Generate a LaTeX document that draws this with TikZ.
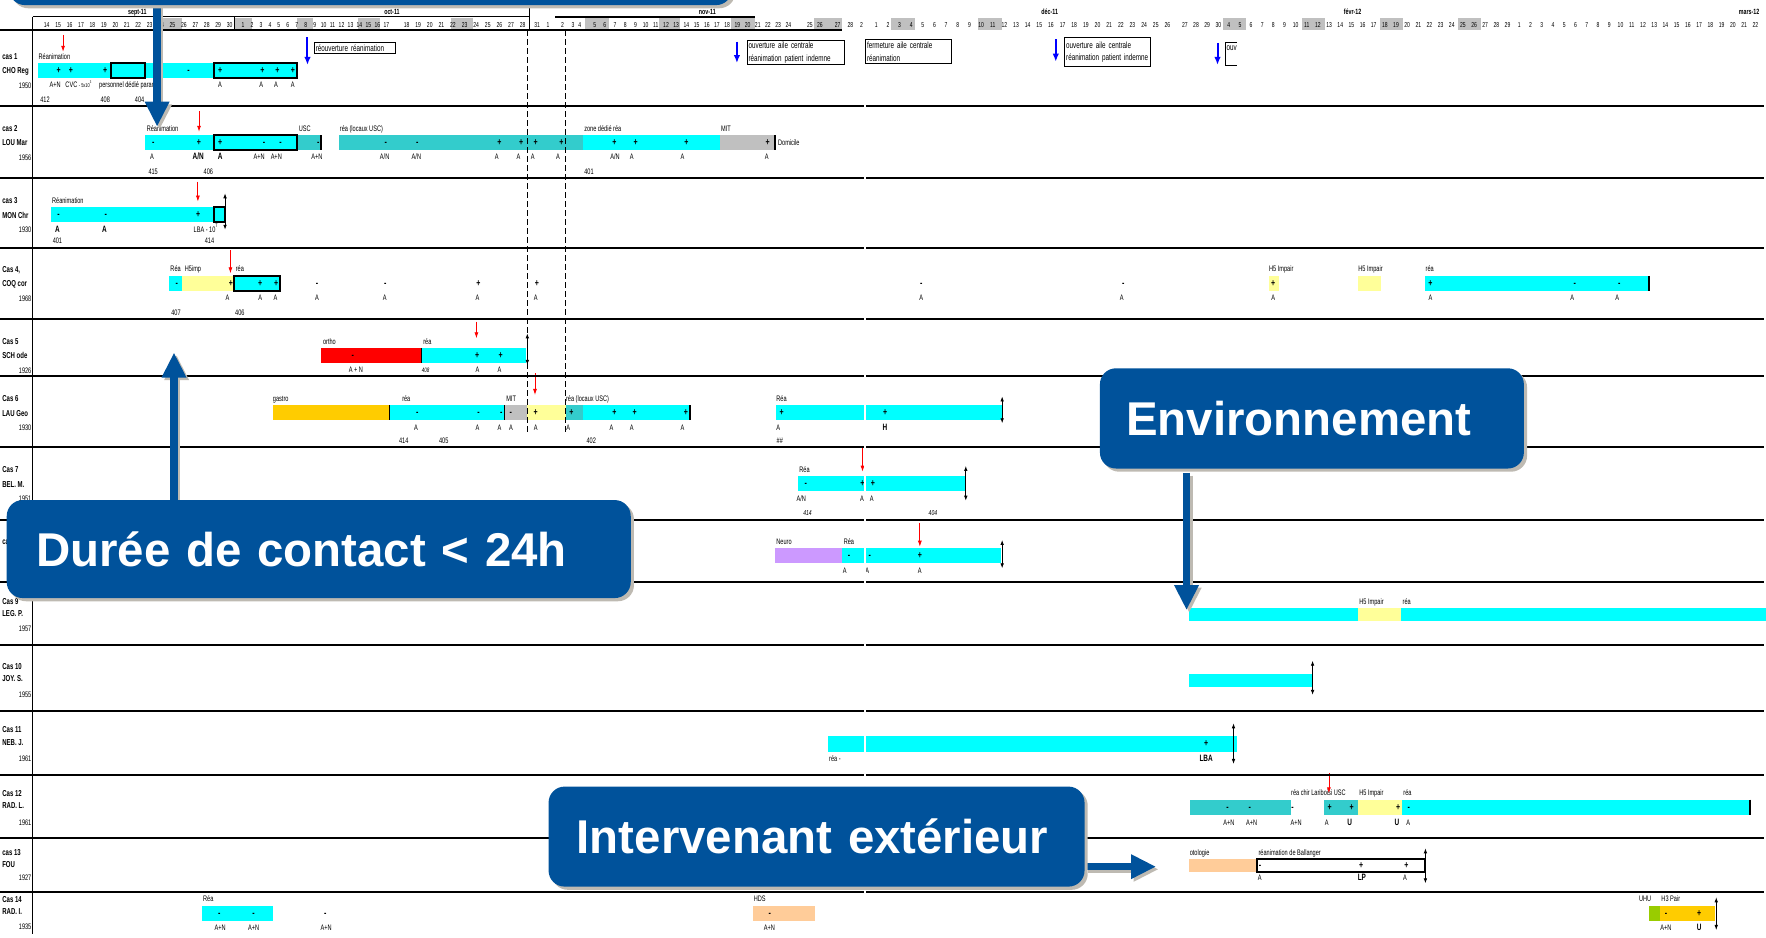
\documentclass[tikz,border=0pt]{standalone}
\usepackage{fontspec}
\setmainfont{Liberation Sans}
\newfontfamily\narrowfont[FakeStretch=0.7]{Liberation Sans}
\usetikzlibrary{arrows.meta,shadows}
\pgfdeclarelayer{arrows}
\pgfdeclarelayer{boxes}
\pgfsetlayers{main,arrows,boxes}

\definecolor{cyanbar}{RGB}{0,255,255}
\definecolor{tealbar}{RGB}{51,204,204}
\definecolor{yellowbar}{RGB}{255,255,153}
\definecolor{redbar}{RGB}{255,0,0}
\definecolor{orangebar}{RGB}{255,204,0}
\definecolor{graybar}{RGB}{192,192,192}
\definecolor{purplebar}{RGB}{204,153,255}
\definecolor{peachbar}{RGB}{255,204,153}
\definecolor{greenbar}{RGB}{153,204,0}
\definecolor{daygray}{RGB}{192,192,192}
\definecolor{calloutblue}{RGB}{0,82,155}
\definecolor{calloutshadow}{RGB}{190,186,178}

\begin{document}
\begin{tikzpicture}[
  x=0.5631pt, y=-0.5631pt,
  rowline/.style={line width=0.9pt},
  heavy/.style={draw=black, line width=1pt},
  abovelbl/.style={font=\narrowfont\fontsize{4}{4.8}\selectfont, anchor=base west, inner sep=0pt},
  obs/.style={font=\narrowfont\fontsize{4}{4.8}\selectfont, anchor=base, inner sep=0pt},
  obsb/.style={obs, font=\narrowfont\bfseries\fontsize{4.6}{5}\selectfont},
  room/.style={obs},
  sgn/.style={font=\narrowfont\bfseries\fontsize{5}{5}\selectfont, anchor=base, inner sep=0pt},
  caselbl/.style={font=\narrowfont\bfseries\fontsize{4.3}{5}\selectfont, anchor=base west, inner sep=0pt},
  yearlbl/.style={font=\narrowfont\fontsize{4}{5}\selectfont, anchor=base east, inner sep=0pt},
  daylbl/.style={font=\narrowfont\fontsize{3.6}{4}\selectfont, anchor=base, inner sep=0pt},
  monthlbl/.style={font=\narrowfont\bfseries\fontsize{3.8}{4}\selectfont, anchor=base, inner sep=0pt},
  notebox/.style={draw, line width=0.5pt, font=\narrowfont\fontsize{4.5}{6.2}\selectfont, align=left, anchor=north west, inner xsep=0.8pt, inner ysep=0pt},
  redarr/.style={red, line width=0.4pt, -{Latex[length=3pt,width=2pt]}},
  bluearr/.style={blue, line width=1pt, -{Latex[length=4pt,width=3.2pt]}},
  dblarr/.style={line width=0.4pt, {Latex[length=2.5pt,width=1.8pt]}-{Latex[length=2.5pt,width=1.8pt]}},
  callout/.style={fill=calloutblue, rounded corners=8pt, text=white, font=\bfseries\fontsize{23.7}{28}\selectfont, align=left, text height=17pt, text depth=0pt, inner ysep=0pt, general shadow={fill=calloutshadow, shadow xshift=1.6pt, shadow yshift=-1.6pt}},
  blockarrow/.style={draw=calloutblue, line width=3.7pt, -{Triangle[length=12.5pt,width=11.5pt]}},
  arrowshadow/.style={draw=calloutshadow, line width=3.7pt, -{Triangle[length=12.5pt,width=11.5pt]}},
]
\useasboundingbox (0,0) rectangle (1568,832);

% header
\foreach \a/\b in {143/162,208/224,264/278,318/337,400/420,519/541,585/604,649/670,723/748,791/812,868/890,1086/1106,1156/1176,1225.5/1245.4,1294.6/1315}
  \fill[daygray] (\a,16.3) rectangle (\b,27);
\foreach \x/\m in {122/sept-11,348/oct-11,628/nov-11,932/déc-11,1201/févr-12,1553/mars-12}
  \node[monthlbl] at (\x,13.3) {\m};
\foreach \d [count=\i from 0] in {14,...,30} \node[daylbl] at (41.5+10.15*\i,24.3) {\d};
\foreach \d [count=\i from 0] in {1,...,17} \node[daylbl] at (215.8+7.95*\i,24.3) {\d};
\foreach \d [count=\i from 0] in {18,...,28} \node[daylbl] at (361+10.3*\i,24.3) {\d};
\foreach \x/\d in {477/31,486.6/1,499.5/2,508.7/3,514.8/4} \node[daylbl] at (\x,24.3) {\d};
\foreach \d [count=\i from 0] in {5,...,24} \node[daylbl] at (528+9.05*\i,24.3) {\d};
\foreach \x/\d in {719/25,728/26,743.7/27,755/28,765/2} \node[daylbl] at (\x,24.3) {\d};
\foreach \d [count=\i from 0] in {1,...,26} \node[daylbl] at (778+10.34*\i,24.3) {\d};
\foreach \d [count=\i from 0] in {27,...,30} \node[daylbl] at (1052+9.9*\i,24.3) {\d};
\foreach \d [count=\i from 0] in {4,...,29} \node[daylbl] at (1091+9.9*\i,24.3) {\d};
\foreach \d [count=\i from 0] in {1,...,22} \node[daylbl] at (1349+9.98*\i,24.3) {\d};
\draw[line width=0.5pt] (29,15) -- (470,15);
\draw[rowline] (493,15) -- (670,15);
\draw[line width=0.5pt] (208,15) -- (208,27) (470,6) -- (470,27);

% bars
% cas 1
\fill[cyanbar] (33.3,56) rectangle (263.4,69);
\draw[heavy] (98.5,56) rectangle (129,69);
\draw[heavy] (190,56) rectangle (263.4,69);
\node[abovelbl] at (34,52.5) {Réanimation};
\foreach \x/\s in {52/+,63/+,93.4/+,167.5/-,195.4/+,233/+,246.4/+,260/+} \node[sgn] at (\x,65.2) {\s};
\foreach \x/\s in {49/A+N,195.4/A,232/A,245/A,260/A} \node[obs] at (\x,78) {\s};
\node[abovelbl] at (57.8,78) {CVC {\fontsize{2.8}{3}\selectfont - 5x10\textsuperscript{3}}};
\node[abovelbl] at (87.7,78) {personnel dédié param};
\foreach \x/\s in {40/412,93.4/408,124/404} \node[room] at (\x,91) {\s};
\draw[redarr] (56,31) -- (56,46);

% cas 2
\fill[cyanbar] (129,120) rectangle (263.4,133);
\fill[tealbar] (263.4,120) rectangle (284.8,133);
\draw[heavy] (190,120) rectangle (263.4,133);
\draw[line width=0.8pt] (284.8,120) -- (284.8,133);
\fill[tealbar] (301.4,120) rectangle (518,133);
\fill[cyanbar] (518,120) rectangle (639,133);
\fill[graybar] (639,120) rectangle (688.3,133);
\draw[line width=0.8pt] (688.3,120) -- (688.3,133);
\foreach \x/\lab in {130/Réanimation,265/USC,301.5/réa (locaux USC),518.4/zone dédié réa,640/MIT} \node[abovelbl] at (\x,116.5) {\lab};
\node[abovelbl] at (690.5,129.2) {Domicile};
\foreach \x/\s in {136/-,176.7/+,195.4/+,234.5/-,249/-,282.7/-,342.5/-,370.4/-,443.4/+,462.8/+,475.7/+,498.5/+,545.6/+,564.3/+,609.5/+,681.5/+} \node[sgn] at (\x,129.2) {\s};
\foreach \x/\s in {135/A,230/A+N,245.3/A+N,281.4/A+N,341.5/{A/N},369.7/{A/N},441/A,460.4/A,473/A,495.4/A,546/{A/N},561/A,606/A,680.8/A} \node[obs] at (\x,142) {\s};
\node[obsb] at (176,142) {A/N};
\node[obsb] at (195.4,142) {A};
\foreach \x/\s in {136/415,185/406,523/401} \node[room] at (\x,155) {\s};
\draw[redarr] (176.7,99) -- (176.7,117);

% cas 3
\fill[cyanbar] (45.2,184) rectangle (199.8,197);
\draw[heavy] (189.6,184) rectangle (199.8,197);
\node[abovelbl] at (45.9,180.5) {Réanimation};
\foreach \x/\s in {52/-,94/-,176/+} \node[sgn] at (\x,193.2) {\s};
\node[obsb] at (51,206) {A};
\node[obsb] at (92.8,206) {A};
\node[abovelbl] at (171.6,206) {LBA - 10\textsuperscript{7}};
\foreach \x/\s in {51/401,186/414} \node[room] at (\x,216) {\s};
\draw[dblarr] (199.8,171.6) -- (199.8,204);
\draw[redarr] (175.7,161.3) -- (175.7,179);

% cas 4
\fill[cyanbar] (150.2,245) rectangle (162,258);
\fill[yellowbar] (162,245) rectangle (208,258);
\fill[cyanbar] (208,245) rectangle (249,258);
\draw[heavy] (208,245) rectangle (249,258);
\fill[yellowbar] (1126.3,245) rectangle (1136,258);
\fill[yellowbar] (1205.5,245) rectangle (1226.3,258);
\fill[cyanbar] (1265,245) rectangle (1464,258);
\draw[line width=0.8pt] (1464,245) -- (1464,258);
\foreach \x/\lab in {151/Réa,163.8/H5imp,209/réa,1126.5/H5 Impair,1205.7/H5 Impair,1265.5/réa} \node[abovelbl] at (\x,241.5) {\lab};
\foreach \x/\s in {157/-,205/+,231/+,245.3/+,281.4/-,342/-,424.8/+,476.7/+,818/-,997.3/-,1130.5/+,1270/+,1398.2/-,1437.8/-} \node[sgn] at (\x,254.2) {\s};
\foreach \x in {202,231,244.7,281.4,341.5,424,475.7,818,996,1130.5,1270,1396,1436} \node[obs] at (\x,267) {A};
\foreach \x/\s in {156.3/407,213/406} \node[room] at (\x,280) {\s};
\draw[redarr] (204.6,222) -- (204.6,242.7);

% cas 5
\fill[redbar] (284.8,309) rectangle (374.5,322);
\fill[cyanbar] (374.5,309) rectangle (467.2,322);
\draw[line width=0.6pt] (374.5,309) -- (374.5,322);
\foreach \x/\lab in {286.5/ortho,375.5/réa} \node[abovelbl] at (\x,305.5) {\lab};
\foreach \x/\s in {313.3/-,423.7/+,444.5/+} \node[sgn] at (\x,318.2) {\s};
\foreach \x/\s in {316/A + N,424/A,443.4/A} \node[obs] at (\x,331) {\s};
\node[obs, font=\narrowfont\itshape\fontsize{3.2}{4}\selectfont] at (377.9,331) {408};
\draw[redarr] (423,285.6) -- (423,300.4);
\draw[dblarr] (468.2,296) -- (468.2,324);

% cas 6
\fill[orangebar] (242,360) rectangle (346,373);
\fill[cyanbar] (346,360) rectangle (447.9,373);
\fill[graybar] (447.9,360) rectangle (468.2,373);
\fill[yellowbar] (468.2,360) rectangle (502.2,373);
\fill[tealbar] (502.2,360) rectangle (517.2,373);
\fill[cyanbar] (517.2,360) rectangle (612.9,373);
\draw[line width=0.6pt] (346,360) -- (346,373) (447.9,360) -- (447.9,373);
\draw[line width=0.9pt] (612.9,360) -- (612.9,373);
\fill[cyanbar] (689,360) rectangle (889.8,373);
\foreach \x/\lab in {242/gastro,356.8/réa,449.2/MIT,502.2/réa (locaux USC),689/Réa} \node[abovelbl] at (\x,356.5) {\lab};
\foreach \x/\s in {370.4/-,424.8/-,445/-,453.6/-,475.7/+,507.3/+,545.6/+,563.6/+,609/+,694/+,786/+} \node[sgn] at (\x,369.2) {\s};
\foreach \x in {369.4,424,443.4,453.6,475.7,504.6,542.9,560.9,606,691} \node[obs] at (\x,382) {A};
\node[obsb] at (785.8,382) {H};
\foreach \x/\s in {358.5/414,394/405,525/402,692.4/\#\#} \node[room] at (\x,394) {\s};
\draw[redarr] (475,331.4) -- (475,350.7);
\draw[dblarr] (889.8,352) -- (889.8,375.8);

% cas 7
\fill[cyanbar] (708.7,423) rectangle (857.5,436);
\node[abovelbl] at (709.4,419.5) {Réa};
\foreach \x/\s in {715.5/-,765.8/+,775/+} \node[sgn] at (\x,432.2) {\s};
\foreach \x/\s in {711.4/{A/N},765.4/A,774/A} \node[obs] at (\x,445) {\s};
\foreach \x/\s in {717/414,828.3/404} \node[room, font=\narrowfont\itshape\fontsize{3.6}{4}\selectfont] at (\x,458) {\s};
\draw[redarr] (765.8,398) -- (765.8,418.8);
\draw[dblarr] (857.5,413.7) -- (857.5,444.5);

% cas 8
\fill[purplebar] (688.3,487) rectangle (748,500);
\fill[cyanbar] (748,487) rectangle (888.8,500);
\foreach \x/\lab in {689/Neuro,748.8/Réa} \node[abovelbl] at (\x,483.5) {\lab};
\foreach \x/\s in {753.9/-,772.2/-,816.7/+} \node[sgn] at (\x,496.2) {\s};
\foreach \x in {750,769.9,816.7} \node[obs] at (\x,509) {A};
\draw[redarr] (816.7,464) -- (816.7,485.4);
\draw[dblarr] (889.8,479.4) -- (889.8,504.6);

% cas 9
\fill[cyanbar] (1055.8,540) rectangle (1205.5,551);
\fill[yellowbar] (1205.5,540) rectangle (1244.3,551);
\fill[cyanbar] (1244.3,540) rectangle (1568,551);
\foreach \x/\lab in {1206.6/H5 Impair,1245/réa} \node[abovelbl] at (\x,536.5) {\lab};

% cas 10
\fill[cyanbar] (1055.7,598.4) rectangle (1165.4,609.6);
\draw[dblarr] (1165.4,586.6) -- (1165.4,617);

% cas 11
\fill[cyanbar] (735.2,653.4) rectangle (1097.9,667.4);
\node[abovelbl] at (735.9,676) {réa -};
\node[sgn] at (1070.9,662.7) {+};
\node[obsb] at (1070.9,676) {LBA};
\draw[dblarr] (1095.2,642.2) -- (1095.2,678.3);

% cas 12
\fill[tealbar] (1056.7,710) rectangle (1146,724);
\fill[tealbar] (1175.5,710) rectangle (1205.9,724);
\fill[yellowbar] (1205.9,710) rectangle (1244.7,724);
\fill[cyanbar] (1244.7,710) rectangle (1553.5,724);
\draw[line width=0.8pt] (1553.5,710) -- (1553.5,724);
\foreach \x/\lab in {1146/réa chir Lariboisi USC,1206.5/H5 Impair,1245.7/réa} \node[abovelbl] at (\x,706.5) {\lab};
\foreach \x/\s in {1090/-,1109.7/-,1147.5/-,1180.6/+,1200.1/+,1241.3/+,1250.8/-} \node[sgn] at (\x,719.7) {\s};
\foreach \x/\s in {1091.1/A+N,1111.4/A+N,1150.9/A+N,1177.9/A,1250.4/A} \node[obs] at (\x,733) {\s};
\node[obsb] at (1198.4,733) {U};
\node[obsb] at (1240.3,733) {U};
\draw[redarr] (1179.9,686.6) -- (1179.9,704.4);

% cas 13
\fill[peachbar] (1055.7,763) rectangle (1115.8,774);
\draw[heavy] (1115.8,763) rectangle (1265.6,774);
\foreach \x/\lab in {1056/otologie,1117.1/réanimation de Ballanger} \node[abovelbl] at (\x,759.5) {\lab};
\foreach \x/\s in {1118.8/-,1208.6/+,1248.7/+} \node[sgn] at (\x,771.2) {\s};
\foreach \x in {1118.5,1247.4} \node[obs] at (\x,782) {A};
\node[obsb] at (1209.2,782) {LP};
\draw[dblarr] (1265.6,753.2) -- (1265.6,784.3);

% cas 14
\fill[cyanbar] (179.4,804) rectangle (242.3,817.5);
\fill[peachbar] (668.6,804) rectangle (723.3,817.5);
\fill[greenbar] (1464,804) rectangle (1473.5,817.5);
\fill[orangebar] (1473.5,804) rectangle (1523.1,817.5);
\foreach \x/\lab in {180/Réa,669/HDS,1455/UHU,1474.8/H3 Pair} \node[abovelbl] at (\x,800.5) {\lab};
\foreach \x/\s in {194.7/-,225/-,288.8/-,683.5/-,1479.2/-,1508.6/+} \node[sgn] at (\x,813.4) {\s};
\foreach \x in {195.4,225.3,289.5,683.2,1479.2} \node[obs] at (\x,826) {A+N};
\node[obsb] at (1508.6,826) {U};
\draw[dblarr] (1523.8,796.7) -- (1523.8,825.7);

% grid
\draw[rowline] (0,27) -- (748,27);
\foreach \y in {94,158,220,283,334,397,462,517,573,631,688,744,792} \draw[rowline] (0,\y) -- (1566,\y);
\draw[line width=0.5pt] (29,15) -- (29,829);
\draw[line width=0.6pt, dash pattern=on 3pt off 1.5pt] (468.5,27) -- (468.5,385) (502,27) -- (502,385);
\draw[white, line width=0.8pt] (768,90) -- (768,832);

% case labels
\foreach \ya/\yb/\yc/\ca/\cb/\cc in {52.7/65.6/78.3/cas 1/CHO Reg/1950, 116.7/129.6/142.3/cas 2/LOU Mar/1956, 180.7/193.6/206.3/cas 3/MON Chr/1930, 241.7/254.6/267.3/{Cas 4,}/COQ cor/1968, 305.7/318.6/331.3/Cas 5/SCH ode/1926, 356.7/369.6/382.3/Cas 6/LAU Geo/1930, 419.7/432.6/445.3/Cas 7/BEL. M./1951, 536.7/547.6/560.3/Cas 9/LEG. P./1957, 594.3/604.7/619.2/Cas 10/JOY. S./1955, 650.6/661.5/676.3/Cas 11/NEB. J./1961, 707.4/717.8/732.6/Cas 12/RAD. L./1961, 760/770.4/782/cas 13/FOU/1927, 801.5/811.9/824.9/Cas 14/RAD. I./1935}
{
  \node[caselbl] at (1.7,\ya) {\ca};
  \node[caselbl] at (1.7,\yb) {\cb};
  \node[yearlbl] at (28.2,\yc) {\cc};
}
\node[caselbl] at (1.7,483.7) {cas 8};

% notes
\node[notebox, minimum width=40.6pt, minimum height=5.5pt, text width=39pt] (note1) at (278.6,37.6) {réouverture réanimation};
\node[notebox, minimum height=12pt, text width=47.2pt] (note2) at (662.8,35.5) {ouverture aile centrale\\réanimation patient indemne};
\node[notebox, minimum height=11.8pt, text width=41.5pt] (note3) at (768,35) {fermeture aile centrale\\réanimation};
\node[notebox, minimum height=14.4pt, text width=41.5pt] (note4) at (944.8,33) {ouverture aile centrale\\réanimation patient indemne};
\draw[line width=0.5pt] (1097.9,38) -- (1087.7,38) -- (1087.7,58) -- (1097.9,58);
\node[abovelbl, font=\narrowfont\fontsize{4.5}{5}\selectfont] (note5) at (1088.8,45) {ouv};
\foreach \x/\ya/\yb in {273/33/57.7,654.3/37/56,937.4/35/54.8,1081/38/57.7} \draw[bluearr] (\x,\ya) -- (\x,\yb);

% callouts
\begin{pgfonlayer}{boxes}
\node[callout, minimum width=361.5pt, minimum height=27.9pt] (topbox) at (329,-20.25) {};
\node[callout, minimum height=49pt, inner xsep=14.64pt, text width=282.7pt] (dureebox) at (283,487.5) {\mbox{Durée de contact < 24h}};
\node[callout, minimum height=50.1pt, inner xsep=13.18pt, text width=185.6pt] (envbox) at (1164.8,371.5) {\mbox{Environnement}};
\node[callout, minimum height=50pt, inner xsep=14.08pt, text width=239.8pt] (interbox) at (725,742.8) {\mbox{Intervenant extérieur}};
\end{pgfonlayer}
\begin{pgfonlayer}{arrows}
\coordinate (toptip) at (139.5,112.5);
\coordinate (dureetip) at (154.5,313);
\coordinate (envtip) at (1053.5,541.7);
\coordinate (intertip) at (1026.4,769.5);
\draw[arrowshadow, transform canvas={shift={(1.3pt,-1.3pt)}}] (topbox.south -| toptip) -- (toptip);
\draw[blockarrow] (topbox.south -| toptip) -- (toptip);
\draw[arrowshadow, transform canvas={shift={(1.3pt,-1.3pt)}}] (dureebox.north -| dureetip) -- (dureetip);
\draw[blockarrow] (dureebox.north -| dureetip) -- (dureetip);
\draw[arrowshadow, transform canvas={shift={(1.3pt,-1.3pt)}}] ([yshift=-2pt]envbox.south -| envtip) -- (envtip);
\draw[blockarrow] ([yshift=-2pt]envbox.south -| envtip) -- (envtip);
\draw[arrowshadow, transform canvas={shift={(1.3pt,-1.3pt)}}] (interbox.east |- intertip) -- (intertip);
\draw[blockarrow] (interbox.east |- intertip) -- (intertip);
\end{pgfonlayer}
\end{tikzpicture}
\end{document}
